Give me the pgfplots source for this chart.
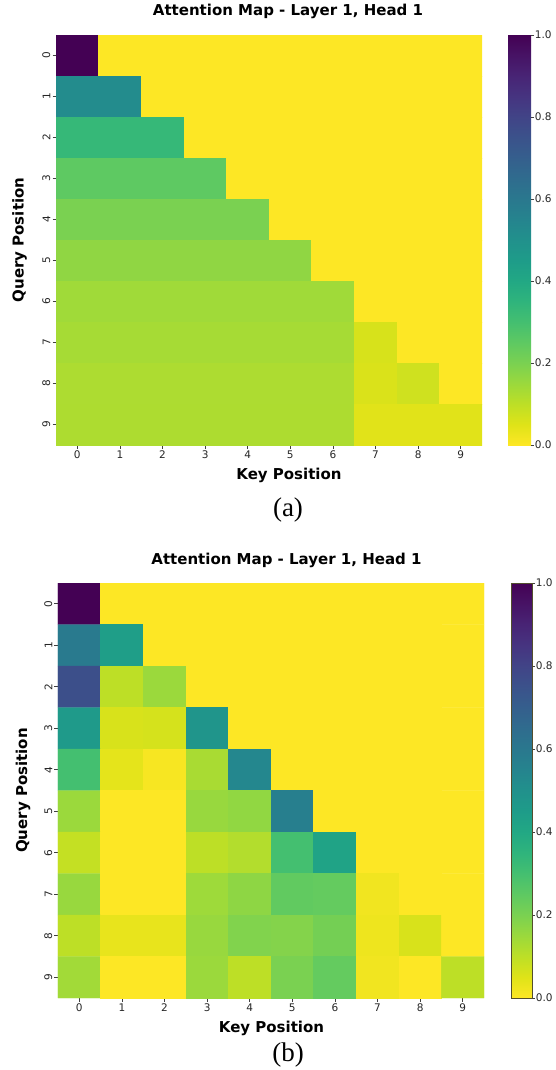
\documentclass[border=0pt]{standalone}
\usepackage{fontspec}
\setmainfont{DejaVu Sans}
\newfontfamily\capfont{Liberation Serif}
\usepackage{pgfplots}
\pgfplotsset{compat=1.18}
\pgfplotsset{
  /pgf/number format/assume math mode=true,
  colormap={rviridis}{rgb255=(253,231,37) rgb255=(223,227,24) rgb255=(189,223,38) rgb255=(155,217,60) rgb255=(122,209,81) rgb255=(94,201,98) rgb255=(68,191,112) rgb255=(47,180,124) rgb255=(34,168,132) rgb255=(30,156,137) rgb255=(33,145,140) rgb255=(37,132,142) rgb255=(42,120,142) rgb255=(47,108,142) rgb255=(53,95,141) rgb255=(59,82,139) rgb255=(65,68,135) rgb255=(70,52,128) rgb255=(72,36,117) rgb255=(71,19,101) rgb255=(68,1,84)},
  heat/.style={
    width=426pt, scale only axis,
    xmin=-0.5, xmax=9.5, ymin=-0.5, ymax=9.5, y dir=reverse,
    xtick={0,...,9}, ytick={0,...,9},
    axis line style={draw=none},
    tick align=outside, xtick pos=bottom, ytick pos=left,
    major tick length=3.5pt,
    tick style={color=black!75, line width=0.6pt},
    tick label style={font=\fontsize{10.5}{12}\selectfont, text=black!85},
    yticklabel style={rotate=90, anchor=south, inner sep=2pt},
    xticklabel style={anchor=north, inner sep=2pt},
    title style={font=\bfseries\fontsize{15}{18}\selectfont},
    xlabel style={font=\bfseries\fontsize{15}{18}\selectfont},
    ylabel style={font=\bfseries\fontsize{15}{18}\selectfont},
    title={Attention Map - Layer 1, Head 1},
    xlabel={Key Position}, ylabel={Query Position},
    colormap name=rviridis, point meta min=0, point meta max=1,
    colorbar,
  },
  cbar/.style 2 args={colorbar/width=#2, colorbar style={scale only axis, width=#2, at={(parent axis.north east)}, anchor=north west, xshift=#1,
    y dir=normal,
    ytick={0,0.2,0.4,0.6,0.8,1},
    tick align=outside, ytick pos=right, major tick length=3pt,
    tick style={color=black!75, line width=0.6pt},
    yticklabel style={font=\fontsize{10.5}{12}\selectfont, text=black!85, inner sep=0.6pt, /pgf/number format/.cd, fixed, fixed zerofill, precision=1}}},
}
\begin{document}
\begin{tikzpicture}
\begin{axis}[heat, height=410pt, cbar={17.5pt}{23pt}, name=A, at={(56pt,-35pt)}, anchor=north west,
  colorbar style={axis line style={draw=none}},
  title style={at={(0.5,1)}, anchor=center, xshift=19pt, yshift=18pt},
  xlabel style={at={(0.5,0)}, anchor=center, xshift=20pt, yshift=-30.5pt},
  ylabel style={at={(0,0.5)}, anchor=center, yshift=36.5pt}]
\addplot[matrix plot*, mesh/cols=10, mesh/rows=10, point meta=explicit] coordinates {
(0,0)[1] (1,0)[0] (2,0)[0] (3,0)[0] (4,0)[0] (5,0)[0] (6,0)[0] (7,0)[0] (8,0)[0] (9,0)[0]

(0,1)[0.52] (1,1)[0.52] (2,1)[0] (3,1)[0] (4,1)[0] (5,1)[0] (6,1)[0] (7,1)[0] (8,1)[0] (9,1)[0]

(0,2)[0.333] (1,2)[0.333] (2,2)[0.333] (3,2)[0] (4,2)[0] (5,2)[0] (6,2)[0] (7,2)[0] (8,2)[0] (9,2)[0]

(0,3)[0.25] (1,3)[0.25] (2,3)[0.25] (3,3)[0.25] (4,3)[0] (5,3)[0] (6,3)[0] (7,3)[0] (8,3)[0] (9,3)[0]

(0,4)[0.2] (1,4)[0.2] (2,4)[0.2] (3,4)[0.2] (4,4)[0.2] (5,4)[0] (6,4)[0] (7,4)[0] (8,4)[0] (9,4)[0]

(0,5)[0.167] (1,5)[0.167] (2,5)[0.167] (3,5)[0.167] (4,5)[0.167] (5,5)[0.167] (6,5)[0] (7,5)[0] (8,5)[0] (9,5)[0]

(0,6)[0.143] (1,6)[0.143] (2,6)[0.143] (3,6)[0.143] (4,6)[0.143] (5,6)[0.143] (6,6)[0.143] (7,6)[0] (8,6)[0] (9,6)[0]

(0,7)[0.134] (1,7)[0.134] (2,7)[0.134] (3,7)[0.134] (4,7)[0.134] (5,7)[0.134] (6,7)[0.134] (7,7)[0.062] (8,7)[0] (9,7)[0]

(0,8)[0.124] (1,8)[0.124] (2,8)[0.124] (3,8)[0.124] (4,8)[0.124] (5,8)[0.124] (6,8)[0.124] (7,8)[0.058] (8,8)[0.074] (9,8)[0]

(0,9)[0.123] (1,9)[0.123] (2,9)[0.123] (3,9)[0.123] (4,9)[0.123] (5,9)[0.123] (6,9)[0.123] (7,9)[0.046] (8,9)[0.046] (9,9)[0.047]
};
\end{axis}
\node[font=\capfont\fontsize{27}{30}\selectfont, anchor=center] at (288pt,-510pt) {(a)};
\begin{axis}[heat, height=415pt, cbar={18.5pt}{21pt}, name=B, at={(58pt,-583pt)}, anchor=north west,
  colorbar style={axis line style={draw=black!55!olive, line width=0.6pt}},
  title style={at={(0.5,1)}, anchor=center, xshift=15.5pt, yshift=17pt},
  xlabel style={at={(0.5,0)}, anchor=center, xshift=0.5pt, yshift=-30pt},
  ylabel style={at={(0,0.5)}, anchor=center, yshift=35pt}]
\addplot[matrix plot*, mesh/cols=10, mesh/rows=10, point meta=explicit] coordinates {
(0,0)[1] (1,0)[0] (2,0)[0] (3,0)[0] (4,0)[0] (5,0)[0] (6,0)[0] (7,0)[0] (8,0)[0] (9,0)[0]

(0,1)[0.59] (1,1)[0.44] (2,1)[0] (3,1)[0] (4,1)[0] (5,1)[0] (6,1)[0] (7,1)[0] (8,1)[0] (9,1)[0]

(0,2)[0.76] (1,2)[0.10] (2,2)[0.15] (3,2)[0] (4,2)[0] (5,2)[0] (6,2)[0] (7,2)[0] (8,2)[0] (9,2)[0]

(0,3)[0.46] (1,3)[0.06] (2,3)[0.065] (3,3)[0.48] (4,3)[0] (5,3)[0] (6,3)[0] (7,3)[0] (8,3)[0] (9,3)[0]

(0,4)[0.30] (1,4)[0.04] (2,4)[0.01] (3,4)[0.13] (4,4)[0.54] (5,4)[0] (6,4)[0] (7,4)[0] (8,4)[0] (9,4)[0]

(0,5)[0.15] (1,5)[0] (2,5)[0] (3,5)[0.155] (4,5)[0.165] (5,5)[0.57] (6,5)[0] (7,5)[0] (8,5)[0] (9,5)[0]

(0,6)[0.09] (1,6)[0] (2,6)[0] (3,6)[0.10] (4,6)[0.115] (5,6)[0.30] (6,6)[0.42] (7,6)[0] (8,6)[0] (9,6)[0]

(0,7)[0.155] (1,7)[0] (2,7)[0] (3,7)[0.145] (4,7)[0.17] (5,7)[0.245] (6,7)[0.24] (7,7)[0.02] (8,7)[0] (9,7)[0]

(0,8)[0.10] (1,8)[0.035] (2,8)[0.035] (3,8)[0.155] (4,8)[0.19] (5,8)[0.185] (6,8)[0.21] (7,8)[0.025] (8,8)[0.06] (9,8)[0]

(0,9)[0.14] (1,9)[0] (2,9)[0] (3,9)[0.15] (4,9)[0.10] (5,9)[0.20] (6,9)[0.24] (7,9)[0.02] (8,9)[0] (9,9)[0.10]
};
\end{axis}
\node[font=\capfont\fontsize{27}{30}\selectfont, anchor=center] at (288pt,-1055pt) {(b)};
\pgfresetboundingbox
\path[use as bounding box] (0pt,0pt) rectangle (556pt,-1070pt);
\end{tikzpicture}
\end{document}
